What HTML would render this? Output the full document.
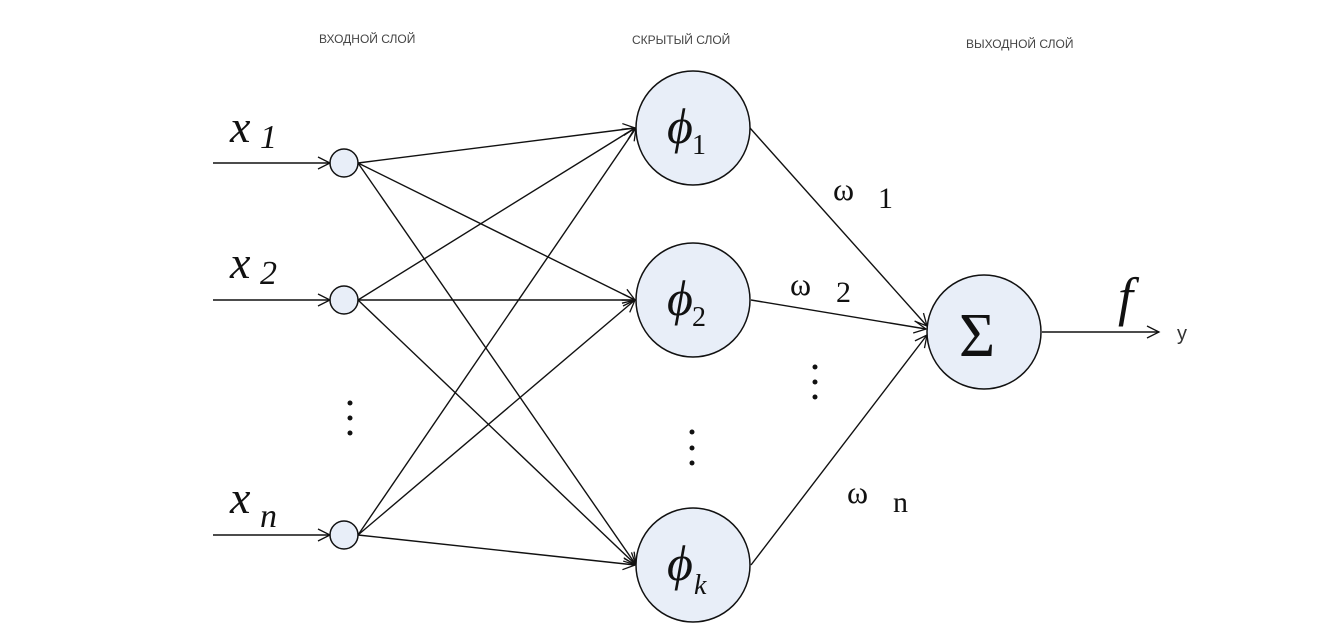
<!DOCTYPE html>
<html><head><meta charset="utf-8"><style>
html,body{margin:0;padding:0;background:#fff}
svg{display:block}
.lbl{font-family:"Liberation Sans",sans-serif;font-size:12px;fill:#444}
.s{font-family:"Liberation Serif",serif;fill:#111}
</style></head><body>
<svg width="1319" height="639" viewBox="0 0 1319 639">
<defs>
<marker id="a" markerWidth="16" markerHeight="16" refX="14" refY="8" orient="auto" markerUnits="userSpaceOnUse">
<path d="M2 2 L14 8 L2 14" fill="none" stroke="#111" stroke-width="1.3"/>
</marker>
</defs>
<text class="lbl" x="319" y="43">ВХОДНОЙ СЛОЙ</text>
<text class="lbl" x="632" y="44">СКРЫТЫЙ СЛОЙ</text>
<text class="lbl" x="966" y="48">ВЫХОДНОЙ СЛОЙ</text>
<g stroke="#111" stroke-width="1.4" fill="none">
<line x1="213" y1="163" x2="330" y2="163" marker-end="url(#a)"/>
<line x1="213" y1="300" x2="330" y2="300" marker-end="url(#a)"/>
<line x1="213" y1="535" x2="330" y2="535" marker-end="url(#a)"/>
<g marker-end="url(#a)">
<line x1="358" y1="163" x2="635" y2="128"/>
<line x1="358" y1="163" x2="635" y2="300"/>
<line x1="358" y1="163" x2="636" y2="565"/>
<line x1="358" y1="300" x2="635" y2="128"/>
<line x1="358" y1="300" x2="635" y2="300"/>
<line x1="358" y1="300" x2="636" y2="565"/>
<line x1="358" y1="535" x2="636" y2="128"/>
<line x1="358" y1="535" x2="635" y2="300"/>
<line x1="358" y1="535" x2="635" y2="565"/>
<line x1="750" y1="128" x2="927" y2="326"/>
<line x1="751" y1="300" x2="926" y2="329"/>
<line x1="751" y1="565" x2="927" y2="335"/>
<line x1="1042" y1="332" x2="1159" y2="332"/>
</g>
</g>
<g fill="#e8eef8" stroke="#111" stroke-width="1.5">
<circle cx="344" cy="163" r="14"/>
<circle cx="344" cy="300" r="14"/>
<circle cx="344" cy="535" r="14"/>
<circle cx="693" cy="128" r="57"/>
<circle cx="693" cy="300" r="57"/>
<circle cx="693" cy="565" r="57"/>
<circle cx="984" cy="332" r="57"/>
</g>
<text class="s" x="230" y="142" font-size="46" font-style="italic">x</text><text class="s" x="260" y="148" font-size="34" font-style="italic">1</text>
<text class="s" x="230" y="278" font-size="46" font-style="italic">x</text><text class="s" x="260" y="284" font-size="34" font-style="italic">2</text>
<text class="s" x="230" y="513" font-size="46" font-style="italic">x</text><text class="s" x="260" y="527" font-size="34" font-style="italic">n</text>
<text class="s" x="667" y="143" font-size="50" font-style="italic">ϕ</text><text class="s" x="692" y="154" font-size="28">1</text>
<text class="s" x="667" y="315" font-size="50" font-style="italic">ϕ</text><text class="s" x="692" y="326" font-size="28">2</text>
<text class="s" x="667" y="580" font-size="50" font-style="italic">ϕ</text><text class="s" x="694" y="594" font-size="28" font-style="italic">k</text>
<text class="s" x="959" y="356" font-size="62">Σ</text>
<text class="s" x="1118" y="315" font-size="54" font-style="italic">f</text>
<text x="1177" y="340" font-family="Liberation Sans,sans-serif" font-size="20" fill="#333">y</text>
<text class="s" x="833" y="200" font-size="32">ω</text><text class="s" x="878" y="208" font-size="30">1</text>
<text class="s" x="790" y="295" font-size="32">ω</text><text class="s" x="836" y="302" font-size="30">2</text>
<text class="s" x="847" y="503" font-size="32">ω</text><text class="s" x="893" y="512" font-size="30">n</text>
<g fill="#111">
<circle cx="350" cy="403" r="2.5"/><circle cx="350" cy="418" r="2.5"/><circle cx="350" cy="433" r="2.5"/>
<circle cx="692" cy="432" r="2.5"/><circle cx="692" cy="448" r="2.5"/><circle cx="692" cy="463" r="2.5"/>
<circle cx="815" cy="367" r="2.5"/><circle cx="815" cy="382" r="2.5"/><circle cx="815" cy="397" r="2.5"/>
</g>
</svg>
</body></html>
